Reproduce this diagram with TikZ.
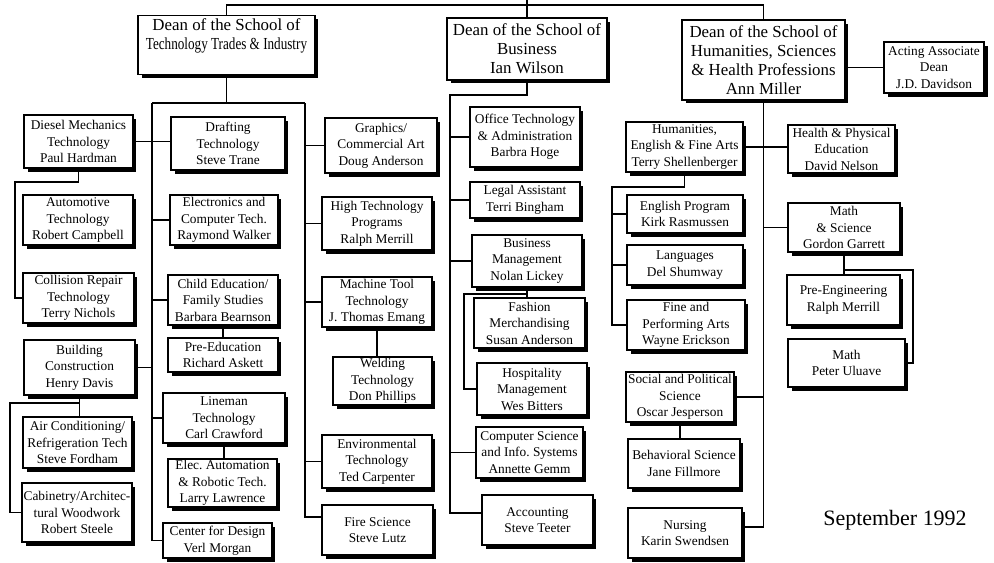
\documentclass[tikz,border=0pt]{standalone}
\usepackage{fontspec}
\setmainfont{Liberation Serif}
\frenchspacing
\usetikzlibrary{shadows}
\tikzset{
  unit/.style={draw=cline, fill=cfill, line width=0.6pt, align=center,
    inner xsep=0.5pt, inner ysep=0.5pt, font=\fontsize{7.6}{9.4}\selectfont,
    minimum width=2.2cm, minimum height=1.0cm,
    drop shadow={shadow xshift=0.07cm, shadow yshift=-0.07cm, opacity=1, fill=cshadow}},
  dean/.style={unit, font=\fontsize{9.6}{10.8}\selectfont},
  link/.style={draw=cline, line width=0.6pt},
}
\begin{document}
\begin{tikzpicture}[x=0.02cm, y=-0.02cm]
%
\useasboundingbox (0,0) rectangle (994,562);
%
\definecolor{cline}{rgb}{0.0,0.0,0.0}
\definecolor{cfill}{rgb}{1.0,1.0,1.0}
\definecolor{cshadow}{rgb}{0.0,0.0,0.0}
%
% deans
\node[dean, minimum width=3.54cm, anchor=north, inner ysep=2pt, text depth=0.42cm] (dtti) at (226.5,15) {Dean of the School of\\\scalebox{0.78}[1]{Technology Trades \& Industry}};
\node[dean, minimum width=3.2cm, minimum height=1.24cm] (dbus) at (527,49) {Dean of the School of\\Business\\Ian Wilson};
\node[dean, minimum width=3.26cm, minimum height=1.6cm] (dhum) at (763.5,60) {Dean of the School of\\Humanities, Sciences\\\& Health Professions\\Ann Miller};
\node[unit, minimum width=2.0cm, minimum height=1.02cm] (acting) at (934,67.5) {Acting Associate\\Dean\\J.D. Davidson};
%
% technology trades & industry
\node[unit, minimum width=2.18cm, minimum height=1.06cm] (diesel) at (78.5,141.5) {Diesel Mechanics\\Technology\\Paul Hardman};
\node[unit] (auto) at (78,220) {Automotive\\Technology\\Robert Campbell};
\node[unit, minimum width=2.22cm] (collision) at (78.5,298) {Collision Repair\\Technology\\Terry Nichols};
\node[unit, minimum width=2.22cm, minimum height=1.1cm] (building) at (79.5,367.5) {Building\\Construction\\Henry Davis};
\node[unit, minimum width=2.18cm, minimum height=1.02cm] (aircond) at (77.5,442.5) {Air Conditioning/\\Refrigeration Tech\\Steve Fordham};
\node[unit, minimum height=1.18cm] (cabinet) at (77,512.5) {Cabinetry/Architec-\\tural Woodwork\\Robert Steele};
%
\node[unit, minimum width=2.28cm, minimum height=1.06cm] (drafting) at (228,143.5) {Drafting\\Technology\\Steve Trane};
\node[unit, minimum width=2.16cm] (electronics) at (224,220) {Electronics and\\Computer Tech.\\Raymond Walker};
\node[unit] (childed) at (223,300) {Child Education/\\Family Studies\\Barbara Bearnson};
\node[unit, minimum height=0.68cm] (preed) at (223,355) {Pre-Education\\Richard Askett};
\node[unit, minimum width=2.44cm] (lineman) at (224,418) {Lineman\\Technology\\Carl Crawford};
\node[unit, minimum width=2.18cm, minimum height=0.96cm] (elecauto) at (222.5,483) {Elec. Automation\\\& Robotic Tech.\\Larry Lawrence};
\node[unit, minimum width=2.18cm, minimum height=0.7cm] (design) at (217.5,540.5) {Center for Design\\Verl Morgan};
%
\node[unit, minimum width=2.24cm, minimum height=1.1cm] (graphics) at (381,145.5) {Graphics/\\Commercial Art\\Doug Anderson};
\node[unit, minimum height=1.06cm] (hightech) at (377,223.5) {High Technology\\Programs\\Ralph Merrill};
\node[unit] (machine) at (377,302) {Machine Tool\\Technology\\J. Thomas Emang};
\node[unit, minimum width=1.98cm, minimum height=0.96cm] (welding) at (382.5,381) {Welding\\Technology\\Don Phillips};
\node[unit, minimum height=1.06cm] (environ) at (377,461.5) {Environmental\\Technology\\Ted Carpenter};
\node[unit, minimum width=2.22cm] (fire) at (377.5,530) {Fire Science\\Steve Lutz};
%
% business
\node[unit, minimum height=1.2cm] (office) at (525,137) {Office Technology\\\& Administration\\Barbra Hoge};
\node[unit, minimum height=0.72cm] (legal) at (525,200) {Legal Assistant\\Terri Bingham};
\node[unit, minimum height=1.04cm] (busmgmt) at (527,261) {Business\\Management\\Nolan Lickey};
\node[unit, minimum width=2.22cm] (fashion) at (529.5,323) {Fashion\\Merchandising\\Susan Anderson};
\node[unit, minimum height=1.04cm] (hospitality) at (532,389) {Hospitality\\Management\\Wes Bitters};
\node[unit, minimum width=2.14cm, minimum height=1.02cm] (compsci) at (529.5,452.5) {Computer Science\\and Info. Systems\\Annette Gemm};
\node[unit, minimum width=2.22cm] (accounting) at (537.5,520) {Accounting\\Steve Teeter};
%
% humanities, sciences & health professions
\node[unit, minimum width=2.34cm] (humeng) at (684.5,147) {Humanities,\\English \& Fine Arts\\Terry Shellenberger};
\node[unit, minimum width=2.32cm, minimum height=0.76cm] (english) at (685,214) {English Program\\Kirk Rasmussen};
\node[unit, minimum width=2.32cm, minimum height=0.8cm] (languages) at (685,265) {Languages\\Del Shumway};
\node[unit, minimum width=2.36cm] (finearts) at (686,325) {Fine and\\Performing Arts\\Wayne Erickson};
\node[unit, minimum width=2.16cm] (social) at (680,397) {Social and Political\\Science\\Oscar Jesperson};
\node[unit, minimum width=2.24cm, minimum height=0.98cm] (behavioral) at (684,463.5) {Behavioral Science\\Jane Fillmore};
\node[unit, minimum width=2.28cm] (nursing) at (685,533) {Nursing\\Karin Swendsen};
%
\node[unit, minimum width=2.14cm, minimum height=0.96cm] (health) at (841.5,149) {Health \& Physical\\Education\\David Nelson};
\node[unit, minimum width=2.24cm, minimum height=0.98cm] (mathsci) at (844,227.5) {Math\\\& Science\\Gordon Garrett};
\node[unit, minimum width=2.26cm] (preeng) at (843.5,300) {Pre-Engineering\\Ralph Merrill};
\node[unit, minimum width=2.34cm, minimum height=0.96cm] (math) at (846.5,363) {Math\\Peter Uluave};
%
\node[font=\fontsize{12.5}{14}\selectfont] (date) at (895,520) {September 1992};
%
% junctions
\coordinate (root) at (dbus.north |- 0,0);
\coordinate (tl) at (152,103);
\coordinate (tr) at (305,103);
\coordinate (dl) at (15,182);
\coordinate (bl) at (10,403);
\coordinate (bt) at (450,95);
\coordinate (fb) at (464,294);
\coordinate (hl) at (612,187);
\coordinate (mr) at (913,270);
%
\draw[link] (root) -- (dbus.north);
\draw[link] (dtti.north) |- (dbus.north |- 0,5) -| (dhum.north);
\draw[link] (dhum.east |- acting.west) -- (acting.west);
%
\draw[link] (dtti.south) -- (dtti.south |- tl);
\draw[link] (tl) -- (tr);
\draw[link] (tl) |- (design.west);
\draw[link] (tr) |- ([yshift=0.26cm]fire.west);
\draw[link] (diesel.east) -- (diesel.east -| drafting.west);
\draw[link] (tl |- electronics.west) -- (electronics.west);
\draw[link] (tl |- childed.west) -- (childed.west);
\draw[link] (building.east) -- (tl |- building.east);
\draw[link] (tl |- lineman.west) -- (lineman.west);
\draw[link] (childed.south) -- (childed.south |- preed.north);
\draw[link] (lineman.south) -- (lineman.south |- elecauto.north);
\draw[link] (diesel.south) |- (dl) |- (collision.west);
\draw[link] (building.south) -- (building.south |- aircond.north);
\draw[link] (building.south |- bl) -- (bl) |- (cabinet.west);
\draw[link] (tr |- graphics.west) -- (graphics.west);
\draw[link] (tr |- hightech.west) -- (hightech.west);
\draw[link] (tr |- machine.west) -- (machine.west);
\draw[link] (tr |- environ.west) -- (environ.west);
\draw[link] (machine.south) -- (machine.south |- welding.north);
%
\draw[link] (dbus.south) |- (bt) |- ([yshift=0.14cm]accounting.west);
\draw[link] (bt |- office.west) -- (office.west);
\draw[link] (bt |- legal.west) -- (legal.west);
\draw[link] (bt |- busmgmt.west) -- (busmgmt.west);
\draw[link] (bt |- compsci.west) -- (compsci.west);
\draw[link] (busmgmt.south) -- (busmgmt.south |- fashion.north);
\draw[link] (busmgmt.south |- fb) -- (fb) |- (hospitality.west);
%
\draw[link] (dhum.south) |- ([yshift=0.12cm]nursing.east);
\draw[link] (humeng.east) -- (humeng.east -| health.west);
\draw[link] (dhum.south |- mathsci.west) -- (mathsci.west);
\draw[link] (social.east) -- (dhum.south |- social.east);
\draw[link] (humeng.south) |- (hl) |- (finearts.west);
\draw[link] (hl |- english.west) -- (english.west);
\draw[link] (hl |- languages.west) -- (languages.west);
\draw[link] (social.south) -- (social.south |- behavioral.north);
\draw[link] (mathsci.south) -- (mathsci.south |- preeng.north);
\draw[link] (mathsci.south |- mr) -- (mr) |- (math.east);
%
\end{tikzpicture}
\end{document}
